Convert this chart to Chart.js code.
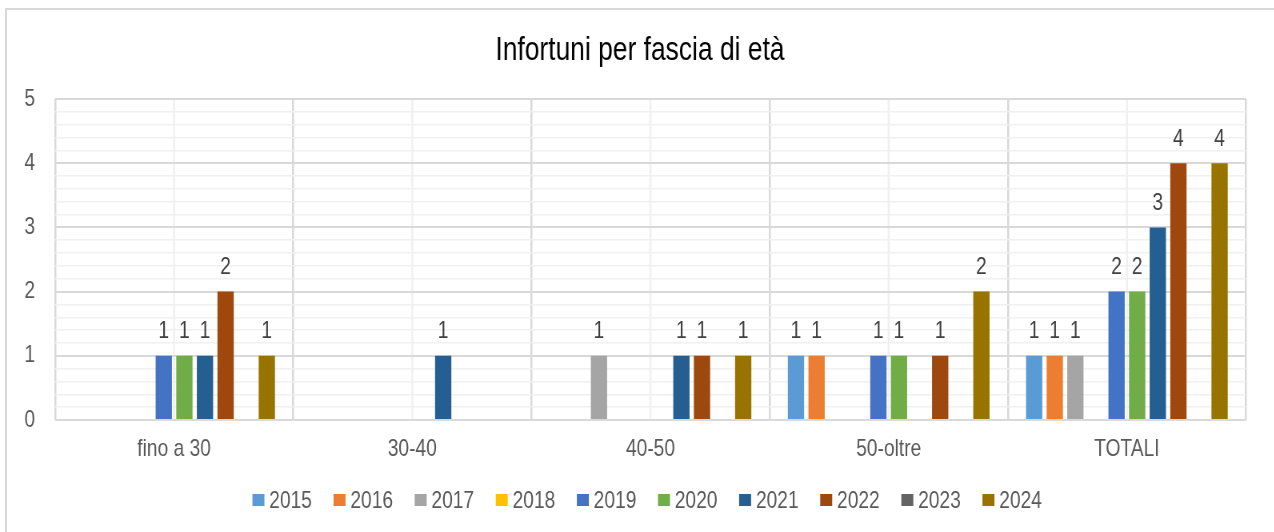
<!DOCTYPE html>
<html>
<head>
<meta charset="utf-8">
<script src="https://cdn.jsdelivr.net/npm/chart.js@4.4.1/dist/chart.umd.min.js"></script>
<style>
  html, body { margin: 0; padding: 0; background: #fff; overflow: hidden; }
  #frame { position: absolute; left: 5px; top: 8px; width: 1300px; height: 560px;
           border-left: 2px solid #d9d9d9; border-top: 2px solid #d9d9d9; }
  /* the original picture is squeezed horizontally, so draw wide and squeeze */
  #wrap { position: absolute; left: 0; top: 0; width: 1593px; height: 532px;
          transform: scaleX(0.8); transform-origin: 0 0; }
</style>
</head>
<body>
<div id="frame"></div>
<div id="wrap"><canvas id="barChart"></canvas></div>
<script>
const chartTitle = 'Infortuni per fascia di età';
const categories = ['fino a 30', '30-40', '40-50', '50-oltre', 'TOTALI'];
const years = ['2015', '2016', '2017', '2018', '2019', '2020', '2021', '2022', '2023', '2024'];

// one array per year, one value per age band (null = no bar)
const values2015 = [null, null, null, 1, 1];
const values2016 = [null, null, null, 1, 1];
const values2017 = [null, null, 1, null, 1];
const values2018 = [null, null, null, null, null];
const values2019 = [1, null, null, 1, 2];
const values2020 = [1, null, null, 1, 2];
const values2021 = [1, 1, 1, null, 3];
const values2022 = [2, null, 1, 1, 4];
const values2023 = [null, null, null, null, null];
const values2024 = [1, null, 1, 2, 4];

const yTicks = [0, 1, 2, 3, 4, 5];

const seriesValues = [values2015, values2016, values2017, values2018, values2019,
                      values2020, values2021, values2022, values2023, values2024];
const colors = ['#5B9BD5', '#ED7D31', '#A5A5A5', '#FFC000', '#4472C4',
                '#70AD47', '#255E91', '#9E480E', '#636363', '#997300'];

const FONT = "'Liberation Sans', Arial, sans-serif";
const isMajor = v => Math.abs(v - Math.round(v)) < 1e-6;

// light vertical line in the middle of every category (drawn under the grid)
const centerLines = {
    id: 'centerLines',
    beforeDraw(chart) {
        const {ctx, chartArea, scales} = chart;
        ctx.save();
        ctx.strokeStyle = '#f0f0f0';
        ctx.lineWidth = 2.5;
        categories.forEach((c, i) => {
            const x = scales.x.getPixelForTick(i);
            ctx.beginPath();
            ctx.moveTo(x, chartArea.top);
            ctx.lineTo(x, chartArea.bottom);
            ctx.stroke();
        });
        ctx.restore();
    }
};

// numbers above the bars
const valueLabels = {
    id: 'valueLabels',
    afterDatasetsDraw(chart) {
        const {ctx} = chart;
        ctx.save();
        ctx.font = '24px ' + FONT;
        ctx.fillStyle = '#404040';
        ctx.textAlign = 'center';
        ctx.textBaseline = 'middle';
        chart.data.datasets.forEach((ds, i) => {
            chart.getDatasetMeta(i).data.forEach((bar, j) => {
                const v = ds.data[j];
                if (v == null) return;
                ctx.fillText(String(v), bar.x, bar.y - 24);
            });
        });
        ctx.restore();
    }
};

// title centred on the whole picture, legend row at the bottom
const titleAndLegend = {
    id: 'titleAndLegend',
    afterDraw(chart) {
        const {ctx} = chart;
        ctx.save();
        ctx.textBaseline = 'middle';
        ctx.textAlign = 'center';
        ctx.fillStyle = '#000';
        ctx.font = '33px ' + FONT;
        ctx.fillText(chartTitle, 800, 50.5);

        const box = 15, gap = 6, spacing = 27, centerX = 809, midY = 500;
        ctx.textAlign = 'left';
        ctx.font = '24px ' + FONT;
        const items = chart.data.datasets.map(ds => ({
            text: ds.label, color: ds.backgroundColor,
            w: box + gap + ctx.measureText(ds.label).width
        }));
        const total = items.reduce((s, it) => s + it.w, 0) + spacing * (items.length - 1);
        let x = centerX - total / 2;
        items.forEach(it => {
            ctx.fillStyle = it.color;
            ctx.fillRect(x, midY - 6, box, 12);
            ctx.fillStyle = '#595959';
            ctx.fillText(it.text, x + box + gap, midY + 1);
            x += it.w + spacing;
        });
        ctx.restore();
    }
};

const ctx = document.getElementById('barChart').getContext('2d');

const barChart = new Chart(ctx, {
    type: 'bar',
    data: {
        labels: categories,
        datasets: years.map((y, i) => ({
            label: y,
            data: seriesValues[i],
            backgroundColor: colors[i],
            borderWidth: 0,
            categoryPercentage: 0.865,
            barPercentage: 0.79
        }))
    },
    options: {
        responsive: true,
        maintainAspectRatio: false,
        animation: false,
        layout: { padding: { top: 99, right: 35.5, bottom: 52, left: 0 } },
        plugins: {
            legend: { display: false },
            tooltip: { enabled: false },
            title: { display: false }
        },
        scales: {
            x: {
                grid: { offset: true, color: '#d9d9d9', lineWidth: 2.5, drawTicks: false },
                border: { display: false },
                ticks: { color: '#595959', padding: 15, font: { family: FONT, size: 24 } },
                afterFit(scale) { scale.height = 60; }
            },
            y: {
                min: yTicks[0],
                max: yTicks[yTicks.length - 1],
                grid: {
                    drawTicks: false,
                    color: c => isMajor(c.tick.value) ? '#d9d9d9' : '#f0f0f0',
                    lineWidth: c => isMajor(c.tick.value) ? 2 : 1.5
                },
                border: { display: false },
                ticks: {
                    stepSize: 0.2,
                    autoSkip: false,
                    padding: 25,
                    color: '#595959',
                    font: { family: FONT, size: 24 },
                    callback: v => isMajor(v) && yTicks.includes(Math.round(v)) ? String(Math.round(v)) : ''
                },
                afterFit(scale) { scale.width = 68.75; }
            }
        }
    },
    plugins: [centerLines, valueLabels, titleAndLegend]
});
</script>
</body>
</html>
